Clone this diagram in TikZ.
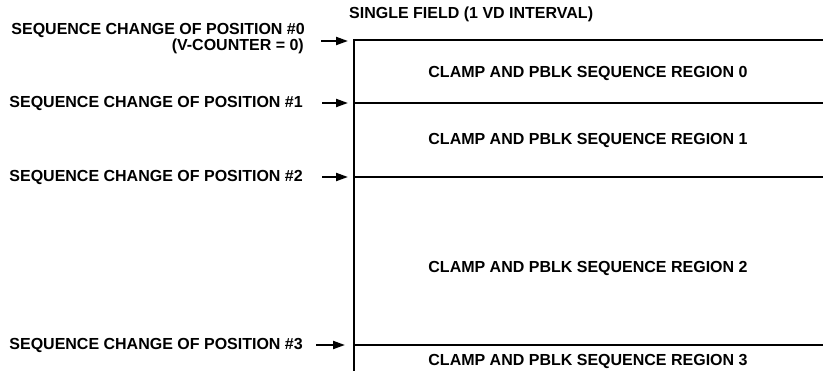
\documentclass[tikz,border=0pt]{standalone}
\usepackage{fontspec}
\setmainfont{Liberation Sans}
\usetikzlibrary{arrows.meta}
\begin{document}
\begin{tikzpicture}[x=1pt,y=-1pt,
  lbl/.style={font=\bfseries\fontsize{16}{17}\selectfont, inner sep=0pt},
  rgn/.style={font=\bfseries\fontsize{16}{17}\selectfont, inner sep=0pt},
  ln/.style={line width=2pt},
  arr/.style={line width=2pt, -{Triangle[length=12pt,width=8pt]}}]
\useasboundingbox (0,0) rectangle (823,371);
% frame
\coordinate (tl) at (354,40);
\coordinate (bl) at (354,371);
\coordinate (p1) at (354,103);
\coordinate (p2) at (354,177);
\coordinate (p3) at (354,345);
\coordinate (r0) at (823,40);
\coordinate (r1) at (823,103);
\coordinate (r2) at (823,177);
\coordinate (r3) at (823,345);
\draw[ln] (bl) -- (tl) -- (r0);
\draw[ln] (p1) -- (r1);
\draw[ln] (p2) -- (r2);
\draw[ln] (p3) -- (r3);
% title
\node[lbl, anchor=west] (title) at (349,14) {SINGLE FIELD (1 VD INTERVAL)};
% region labels
\node[rgn] (g0) at (588,73) {CLAMP AND PBLK SEQUENCE REGION 0};
\node[rgn] (g1) at (588,140) {CLAMP AND PBLK SEQUENCE REGION 1};
\node[rgn] (g2) at (588,268) {CLAMP AND PBLK SEQUENCE REGION 2};
\node[rgn] (g3) at (588,361) {CLAMP AND PBLK SEQUENCE REGION 3};
% left labels
\node[lbl, anchor=east] (s0) at (305,30) {SEQUENCE CHANGE OF POSITION \#0};
\node[lbl, anchor=east] (s0b) at (304,46) {(V-COUNTER = 0)};
\node[lbl, anchor=east] (s1) at (303,103) {SEQUENCE CHANGE OF POSITION \#1};
\node[lbl, anchor=east] (s2) at (303,177) {SEQUENCE CHANGE OF POSITION \#2};
\node[lbl, anchor=east] (s3) at (303,345) {SEQUENCE CHANGE OF POSITION \#3};
% arrows
\coordinate (a0) at (348,41);
\coordinate (a1) at (348,103);
\coordinate (a2) at (348,177);
\coordinate (a3) at (345,345);
\draw[arr] (321,41) -- (a0);
\draw[arr] (s1.east) ++(19,0) -- (a1);
\draw[arr] (s2.east) ++(19,0) -- (a2);
\draw[arr] (s3.east) ++(13,0) -- (a3);
\end{tikzpicture}
\end{document}
